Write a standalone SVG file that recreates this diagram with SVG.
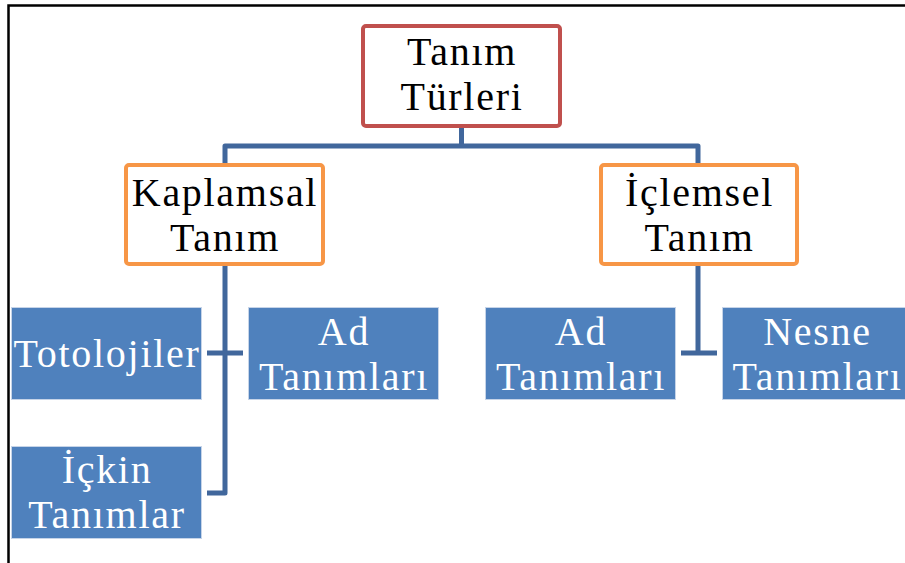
<svg xmlns="http://www.w3.org/2000/svg" width="905" height="563" viewBox="0 0 905 563">
<style>
.t{font-family:"Liberation Serif","DejaVu Serif",serif;font-size:40px;letter-spacing:1.7px;text-anchor:middle}
.dk{fill:#000}
.wt{fill:#fff}
.blue{fill:#4F81BD;stroke:#C6D4E8;stroke-width:1}
.con{fill:none;stroke:#41679C;stroke-width:5;stroke-linejoin:round}
</style>
<rect x="0" y="0" width="905" height="563" fill="#fff"/>
<path d="M8.5,563 V5.5 H905" fill="none" stroke="#000" stroke-width="2.5"/>
<g id="connectors">
<path class="con" d="M461.5,127 V146 M225,165 V146 H698 V165"/>
<path class="con" d="M225,265 V493 H207 M207,353 H243"/>
<path class="con" d="M698,265 V353 M681,353 H717"/>
</g>
<g id="root">
<rect x="363" y="26" width="197" height="100" rx="3" fill="#fff" stroke="#C0504D" stroke-width="4"/>
<text class="t dk" x="462" y="65">Tanım</text>
<text class="t dk" x="462" y="110">Türleri</text>
</g>
<g id="kaplamsal">
<rect x="126" y="165" width="197" height="99" rx="3" fill="#fff" stroke="#F79646" stroke-width="4"/>
<text class="t dk" x="225" y="206">Kaplamsal</text>
<text class="t dk" x="225" y="251">Tanım</text>
</g>
<g id="iclemsel">
<rect x="601" y="165" width="196" height="99" rx="3" fill="#fff" stroke="#F79646" stroke-width="4"/>
<text class="t dk" x="699.5" y="206">İçlemsel</text>
<text class="t dk" x="699.5" y="251">Tanım</text>
</g>
<g id="totolojiler">
<rect class="blue" x="11.5" y="307.5" width="190" height="92"/>
<text class="t wt" x="107" y="367">Totolojiler</text>
</g>
<g id="ad1">
<rect class="blue" x="248.5" y="307.5" width="190" height="92"/>
<text class="t wt" x="344" y="345">Ad</text>
<text class="t wt" x="344" y="390">Tanımları</text>
</g>
<g id="ickin">
<rect class="blue" x="11.5" y="446.5" width="190" height="92"/>
<text class="t wt" x="107" y="483">İçkin</text>
<text class="t wt" x="107" y="528">Tanımlar</text>
</g>
<g id="ad2">
<rect class="blue" x="485.5" y="307.5" width="190" height="92"/>
<text class="t wt" x="581" y="345">Ad</text>
<text class="t wt" x="581" y="390">Tanımları</text>
</g>
<g id="nesne">
<rect class="blue" x="722.5" y="307.5" width="190" height="92"/>
<text class="t wt" x="817.5" y="345">Nesne</text>
<text class="t wt" x="817.5" y="390">Tanımları</text>
</g>
</svg>
